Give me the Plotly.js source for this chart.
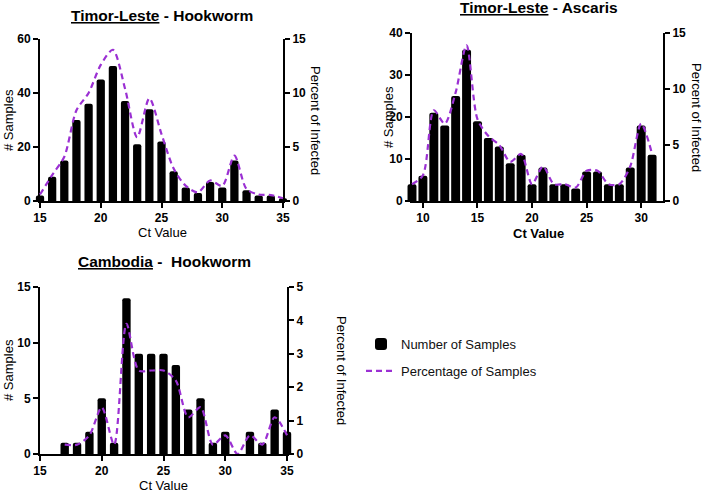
<!DOCTYPE html>
<html>
<head>
<meta charset="utf-8">
<script src="https://cdn.plot.ly/plotly-3.0.1.min.js"></script>
<style>html,body{margin:0;padding:0;background:#fff;}#chart{width:704px;height:492px;}</style>
</head>
<body>
<div id="chart"></div>
<script>
// ---- Data ----
const tlHookCt    = [15,16,17,18,19,20,21,22,23,24,25,26,27,28,29,30,31,32,33,34,35];
const tlHookCount = [2,9,15,30,36,45,50,37,21,34,22,11,5,3,7,5,15,4,2,2,1];
const tlHookPct   = [0.6,2.4,4.1,8.4,10.0,12.6,14.0,10.4,5.9,9.5,6.2,3.0,1.4,0.8,1.9,1.4,4.2,1.1,0.6,0.55,0.25];

const tlAscCt    = [9,10,11,12,13,14,15,16,17,18,19,20,21,22,23,24,25,26,27,28,29,30,31];
const tlAscCount = [4,6,21,18,25,36,19,15,13,9,11,4,8,4,4,3,7,7,4,4,8,18,11];
const tlAscPct   = [1.5,2.3,8.1,6.9,9.7,13.9,7.3,5.8,5.0,3.5,4.2,1.5,3.1,1.5,1.5,1.2,2.7,2.7,1.5,1.5,3.1,6.9,4.2];

const cbHookCt    = [17,18,19,20,21,22,23,24,25,26,27,28,29,30,31,32,33,34,35];
const cbHookCount = [1,1,2,5,1,14,9,9,9,8,4,5,1,2,0,2,1,4,2];
const cbHookPct   = [0.28,0.28,0.56,1.4,0.28,3.9,2.5,2.5,2.5,2.2,1.1,1.4,0.28,0.56,0,0.56,0.28,1.1,0.56];

const xTitle = 'Ct Value';
const yTitle = '# Samples';
const y2Title = 'Percent of Infected';
const barName = 'Number of Samples';
const lineName = 'Percentage of Samples';

// ---- Layout helpers (pixel geometry) ----
const W = 704, H = 492;
const px = v => v / W;
const py = v => 1 - v / H;
const FONT = 'Arial, "Liberation Sans", sans-serif';
const PURPLE = '#9B30D3';

function wideDomain(l, r, r0, r1, pad) {
  const s = (r - l) / (r1 - r0);
  return {domain: [px(l - pad * s), px(r + pad * s)], range: [r0 - pad, r1 + pad]};
}

const axCommon = {
  showgrid: false, zeroline: false, showline: true, linecolor: '#000', linewidth: 2,
  ticks: 'outside', ticklen: 5, tickwidth: 2, tickcolor: '#000',
  tickfont: {family: FONT, size: 12, color: '#000', weight: 'bold'},
  fixedrange: true
};

function frame(xa, ya) {
  // empty trace: only makes the visible axes' subplot exist
  return {type: 'scatter', mode: 'lines', x: [], y: [], xaxis: xa, yaxis: ya, showlegend: false, hoverinfo: 'skip'};
}
function bar(x, y, xa, ya, width, show) {
  return {type: 'bar', x: x, y: y, xaxis: xa, yaxis: ya, width: width,
    marker: {color: '#000', cornerradius: 2, line: {width: 0}},
    name: barName, showlegend: show, legendgroup: 'a', hoverinfo: 'skip'};
}
function line(x, y, xa, ya, show) {
  return {type: 'scatter', mode: 'lines', x: x, y: y, xaxis: xa, yaxis: ya,
    line: {color: PURPLE, width: 2.2, dash: '6px,4px', shape: 'spline', smoothing: 0.8},
    name: lineName, showlegend: show, legendgroup: 'b', hoverinfo: 'skip', cliponaxis: false};
}

const traces = [
  frame('x', 'y'), frame('x2', 'y3'), frame('x3', 'y5'),
  frame('x', 'y2'), frame('x2', 'y4'), frame('x3', 'y6'),
  bar(tlHookCt, tlHookCount, 'x4', 'y', 0.68, true),
  bar(tlAscCt, tlAscCount, 'x5', 'y3', 0.82, false),
  bar(cbHookCt, cbHookCount, 'x6', 'y5', 0.68, false),
  line(tlHookCt, tlHookPct, 'x4', 'y2', true),
  line(tlAscCt, tlAscPct, 'x5', 'y4', false),
  line(cbHookCt, cbHookPct, 'x6', 'y6', false)
];

const w1 = wideDomain(40, 283, 15, 35, 0.5);
const w2 = wideDomain(412, 663, 9, 32, 0.5);
const w3 = wideDomain(40, 287, 15, 35, 0.5);

const layout = {
  width: W, height: H, autosize: false,
  margin: {l: 0, r: 0, t: 0, b: 0},
  paper_bgcolor: '#fff', plot_bgcolor: 'rgba(0,0,0,0)',
  font: {family: FONT, color: '#000'},
  showlegend: true,
  legend: {x: px(361), y: py(329), xanchor: 'left', yanchor: 'top',
    font: {family: FONT, size: 13, color: '#111'}, tracegroupgap: 7, traceorder: 'grouped',
    bgcolor: 'rgba(0,0,0,0)'},
  // Timor-Leste Hookworm
  xaxis: Object.assign({}, axCommon, {domain: [px(40), px(283)], range: [15, 35], anchor: 'y', tick0: 15, dtick: 5}),
  yaxis: Object.assign({}, axCommon, {domain: [py(201), py(39)], range: [0, 60], anchor: 'x', dtick: 20}),
  yaxis2: Object.assign({}, axCommon, {overlaying: 'y', side: 'right', anchor: 'x', range: [0, 15], dtick: 5}),
  xaxis4: {domain: w1.domain, range: w1.range, anchor: 'y', visible: false, fixedrange: true},
  // Timor-Leste Ascaris
  xaxis2: Object.assign({}, axCommon, {domain: [px(412), px(663)], range: [9, 32], anchor: 'y3', tick0: 10, dtick: 5}),
  yaxis3: Object.assign({}, axCommon, {domain: [py(201), py(33)], range: [0, 40], anchor: 'x2', dtick: 10}),
  yaxis4: Object.assign({}, axCommon, {overlaying: 'y3', side: 'right', anchor: 'x2', range: [0, 15], dtick: 5}),
  xaxis5: {domain: w2.domain, range: w2.range, anchor: 'y3', visible: false, fixedrange: true},
  // Cambodia Hookworm
  xaxis3: Object.assign({}, axCommon, {domain: [px(40), px(287)], range: [15, 35], anchor: 'y5', tick0: 15, dtick: 5}),
  yaxis5: Object.assign({}, axCommon, {domain: [py(454), py(287)], range: [0, 15], anchor: 'x3', dtick: 5}),
  yaxis6: Object.assign({}, axCommon, {overlaying: 'y5', side: 'right', anchor: 'x3', range: [0, 5], dtick: 1}),
  xaxis6: {domain: w3.domain, range: w3.range, anchor: 'y5', visible: false, fixedrange: true},
  annotations: []
};

function ann(text, x, y, opts) {
  layout.annotations.push(Object.assign({
    text: text, xref: 'paper', yref: 'paper', x: px(x), y: py(y),
    xanchor: 'center', yanchor: 'middle', showarrow: false,
    font: {family: FONT, size: 13, color: '#000'}
  }, opts || {}));
}
const titleFont = {family: FONT, size: 15.5, color: '#000', weight: 'bold'};
ann('<span style="text-decoration:underline">Timor-Leste</span> - Hookworm', 162, 15, {font: titleFont});
ann('<span style="text-decoration:underline">Timor-Leste</span> - Ascaris', 539, 8, {font: titleFont});
ann('<span style="text-decoration:underline">Cambodia</span> -  Hookworm', 164, 261, {font: titleFont});

ann(yTitle, 8, 120, {textangle: -90});
ann(yTitle, 388, 117, {textangle: -90});
ann(yTitle, 8, 370, {textangle: -90});

ann(y2Title, 316, 120, {textangle: 90});
ann(y2Title, 697, 117, {textangle: 90});
ann(y2Title, 342, 370, {textangle: 90});

ann(xTitle, 162, 232);
ann(xTitle, 538, 233, {font: {family: FONT, size: 13, color: '#000', weight: 'bold'}});
ann(xTitle, 163, 485.5);

Plotly.newPlot('chart', traces, layout, {displayModeBar: false, staticPlot: true});
</script>
</body>
</html>
